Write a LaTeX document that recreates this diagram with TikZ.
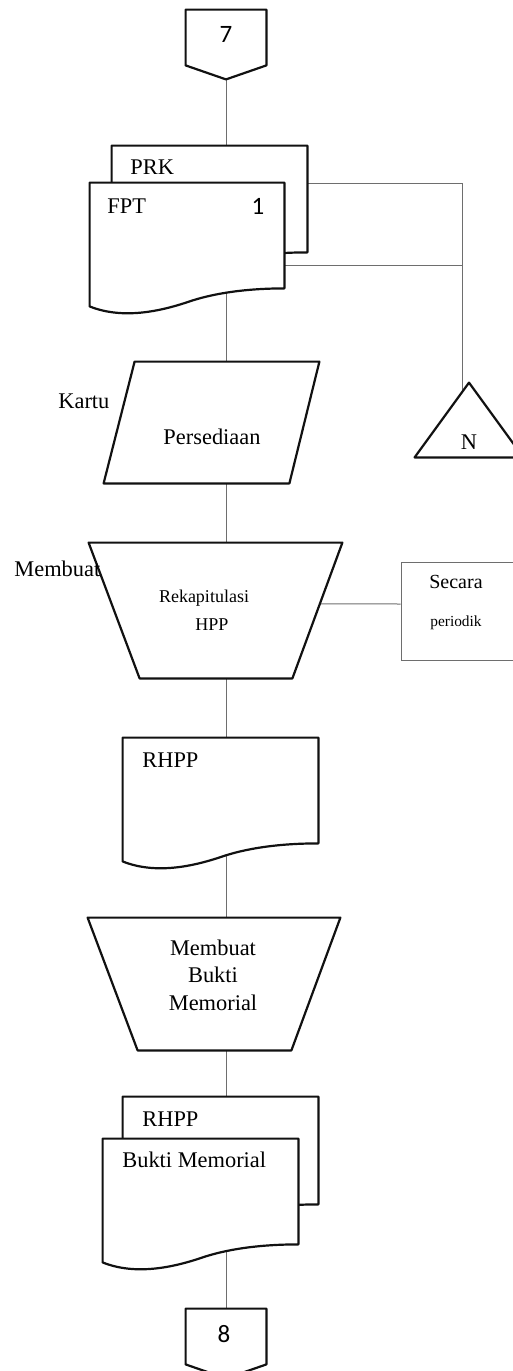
\documentclass[tikz,border=0pt]{standalone}
\usepackage{fontspec}
\setmainfont{Liberation Serif}
\newfontfamily\digitfont{Carlito}
\usepackage{tikz}
\usetikzlibrary{calc,positioning}
\definecolor{shapeblack}{HTML}{111111}
\definecolor{linegray}{HTML}{6E6E6E}
\pgfdeclarelayer{bg}
\pgfdeclarelayer{mid}
\pgfsetlayers{bg,mid,main}
\tikzset{
  area/.style 2 args={inner sep=0pt,minimum width=#1*0.5pt,minimum height=#2*0.5pt},
  outline/.style={draw=shapeblack,line width=1.1pt,fill=white,line join=round},
  conn/.style={draw=linegray,line width=0.5pt},
  lbl/.style={inner sep=0pt,font=\fontsize{11.2}{13.75}\selectfont},
  small/.style={inner sep=0pt,font=\fontsize{9}{13.5}\selectfont},
  tiny/.style={inner sep=0pt,font=\fontsize{7.7}{9}\selectfont},
  digit/.style={inner sep=0pt,font=\digitfont\fontsize{12.5}{14}\selectfont}
}
% document symbol with wavy bottom
\newcommand{\docshape}[1]{%
  \draw[outline] (#1.south east) -- (#1.north east) -- (#1.north west)
    -- ($(#1.south west)+(0,18)$)
    .. controls ($(#1.south west)+(30,30)$) and ($(#1.south west)+(65,25)$) .. ($(#1.south west)+(100,13)$)
    .. controls ($(#1.south west)+(130,3)$) and ($(#1.south west)+(165,0)$) .. (#1.south east) -- cycle;}
% off-page connector
\newcommand{\offpage}[1]{%
  \draw[outline] (#1.north west) -- (#1.north east) -- (#1.south east)
    -- ($(#1.south)+(0,14)$) -- (#1.south west) -- cycle;}

\begin{document}
\begin{tikzpicture}[x=0.5pt,y=-0.5pt]
  \clip (0,0) rectangle (513,1371);
  \useasboundingbox (0,0) rectangle (513,1371);
  \coordinate (spine) at (226,0);
  \coordinate (bus) at (462,183);

  % shape areas
  \node[area={80}{55}] (c7) at (226,37.5) {};
  \node[area={195}{106}] (prk) at (209.5,199) {};
  \node[area={194}{105}] (fpt) at (187,235.5) {};
  \node[area={215}{121}] (kartu) at (211.5,422.5) {};
  \node[area={253}{135}] (rek) at (215.5,610.5) {};
  \node[area={195}{105}] (rhpp) at (220.5,790.5) {};
  \node[area={252}{132}] (memo) at (214,984) {};
  \node[area={195}{107}] (rhppb) at (220.5,1150.5) {};
  \node[area={195}{105}] (bukti) at (200.5,1191.5) {};
  \node[area={80}{55}] (c8) at (226,1336.5) {};
  \node[area={108}{74}] (tri) at (469,420) {};
  \node[area={116}{98},draw=linegray,line width=0.5pt] (sec) at (459,611) {};

  \begin{pgfonlayer}{mid}
    \offpage{c7}
    \docshape{prk}
    \docshape{fpt}
    \draw[outline] (kartu.south west) -- ($(kartu.north west)+(31,0)$)
      -- (kartu.north east) -- ($(kartu.south east)+(-30,0)$) -- cycle;
    \draw[outline] (tri.north) -- (tri.south east) -- (tri.south west) -- cycle;
    \draw[outline] (rek.north west) -- (rek.north east)
      -- ($(rek.south east)+(-50,0)$) -- ($(rek.south west)+(51,0)$) -- cycle;
    \docshape{rhpp}
    \draw[outline] (memo.north west) -- (memo.north east)
      -- ($(memo.south east)+(-49,0)$) -- ($(memo.south west)+(50,0)$) -- cycle;
    \docshape{rhppb}
    \docshape{bukti}
    \offpage{c8}
  \end{pgfonlayer}

  % texts
  \node[digit] (t7) at (226,34) {7};
  \node[lbl,anchor=west] (tprk) at (130,167) {PRK};
  \node[lbl,anchor=west] (tfpt) at (107,206) {FPT};
  \node[digit] (tone) at (258,206) {1};
  \node[lbl,anchor=west] (tkartu) at (58,401) {Kartu};
  \node[lbl] (tpers) at (212,437) {Persediaan};
  \node[lbl] (tn) at (469,442) {N};
  \node[lbl,anchor=west] (tmb) at (14,569) {Membuat};
  \node[small] (trek) at (204,598) {Rekapitulasi};
  \node[small] (thpp) at (212,625) {HPP};
  \node[inner sep=0pt,font=\fontsize{10}{12}\selectfont] (tsec) at (456,582) {Secara};
  \node[tiny] (tper) at (456,623) {periodik};
  \node[lbl,anchor=west] (trh) at (142,760) {RHPP};
  \node[lbl,align=center] (tmemo) at (213,975) {Membuat\\Bukti\\Memorial};
  \node[lbl,anchor=west] (trhb) at (142,1119) {RHPP};
  \node[lbl,anchor=west] (tbm) at (122,1160) {Bukti Memorial};
  \node[digit] (t8) at (224,1334) {8};

  % connectors
  \begin{pgfonlayer}{bg}
    \draw[conn] (c7.south) -- (spine |- prk.north);
    \draw[conn] (spine |- fpt.south) -- (spine |- kartu.north);
    \draw[conn] (spine |- kartu.south) -- (spine |- rek.north);
    \draw[conn] (spine |- rek.south) -- (spine |- rhpp.north);
    \draw[conn] (spine |- rhpp.south) -- (spine |- memo.north);
    \draw[conn] (spine |- memo.south) -- (spine |- rhppb.north);
    \draw[conn] (spine |- bukti.south) -- (c8.north);
    \draw[conn] (prk.east |- bus) -- (bus) -- (bus |- tri.center);
    \draw[conn] ($(fpt.south east)+(0,-23)$) -| (bus);
    \draw[conn] ($(sec.west)+(0,-7)$) -- ($(rek.center)+(0,-7)$);
  \end{pgfonlayer}
\end{tikzpicture}
\end{document}
